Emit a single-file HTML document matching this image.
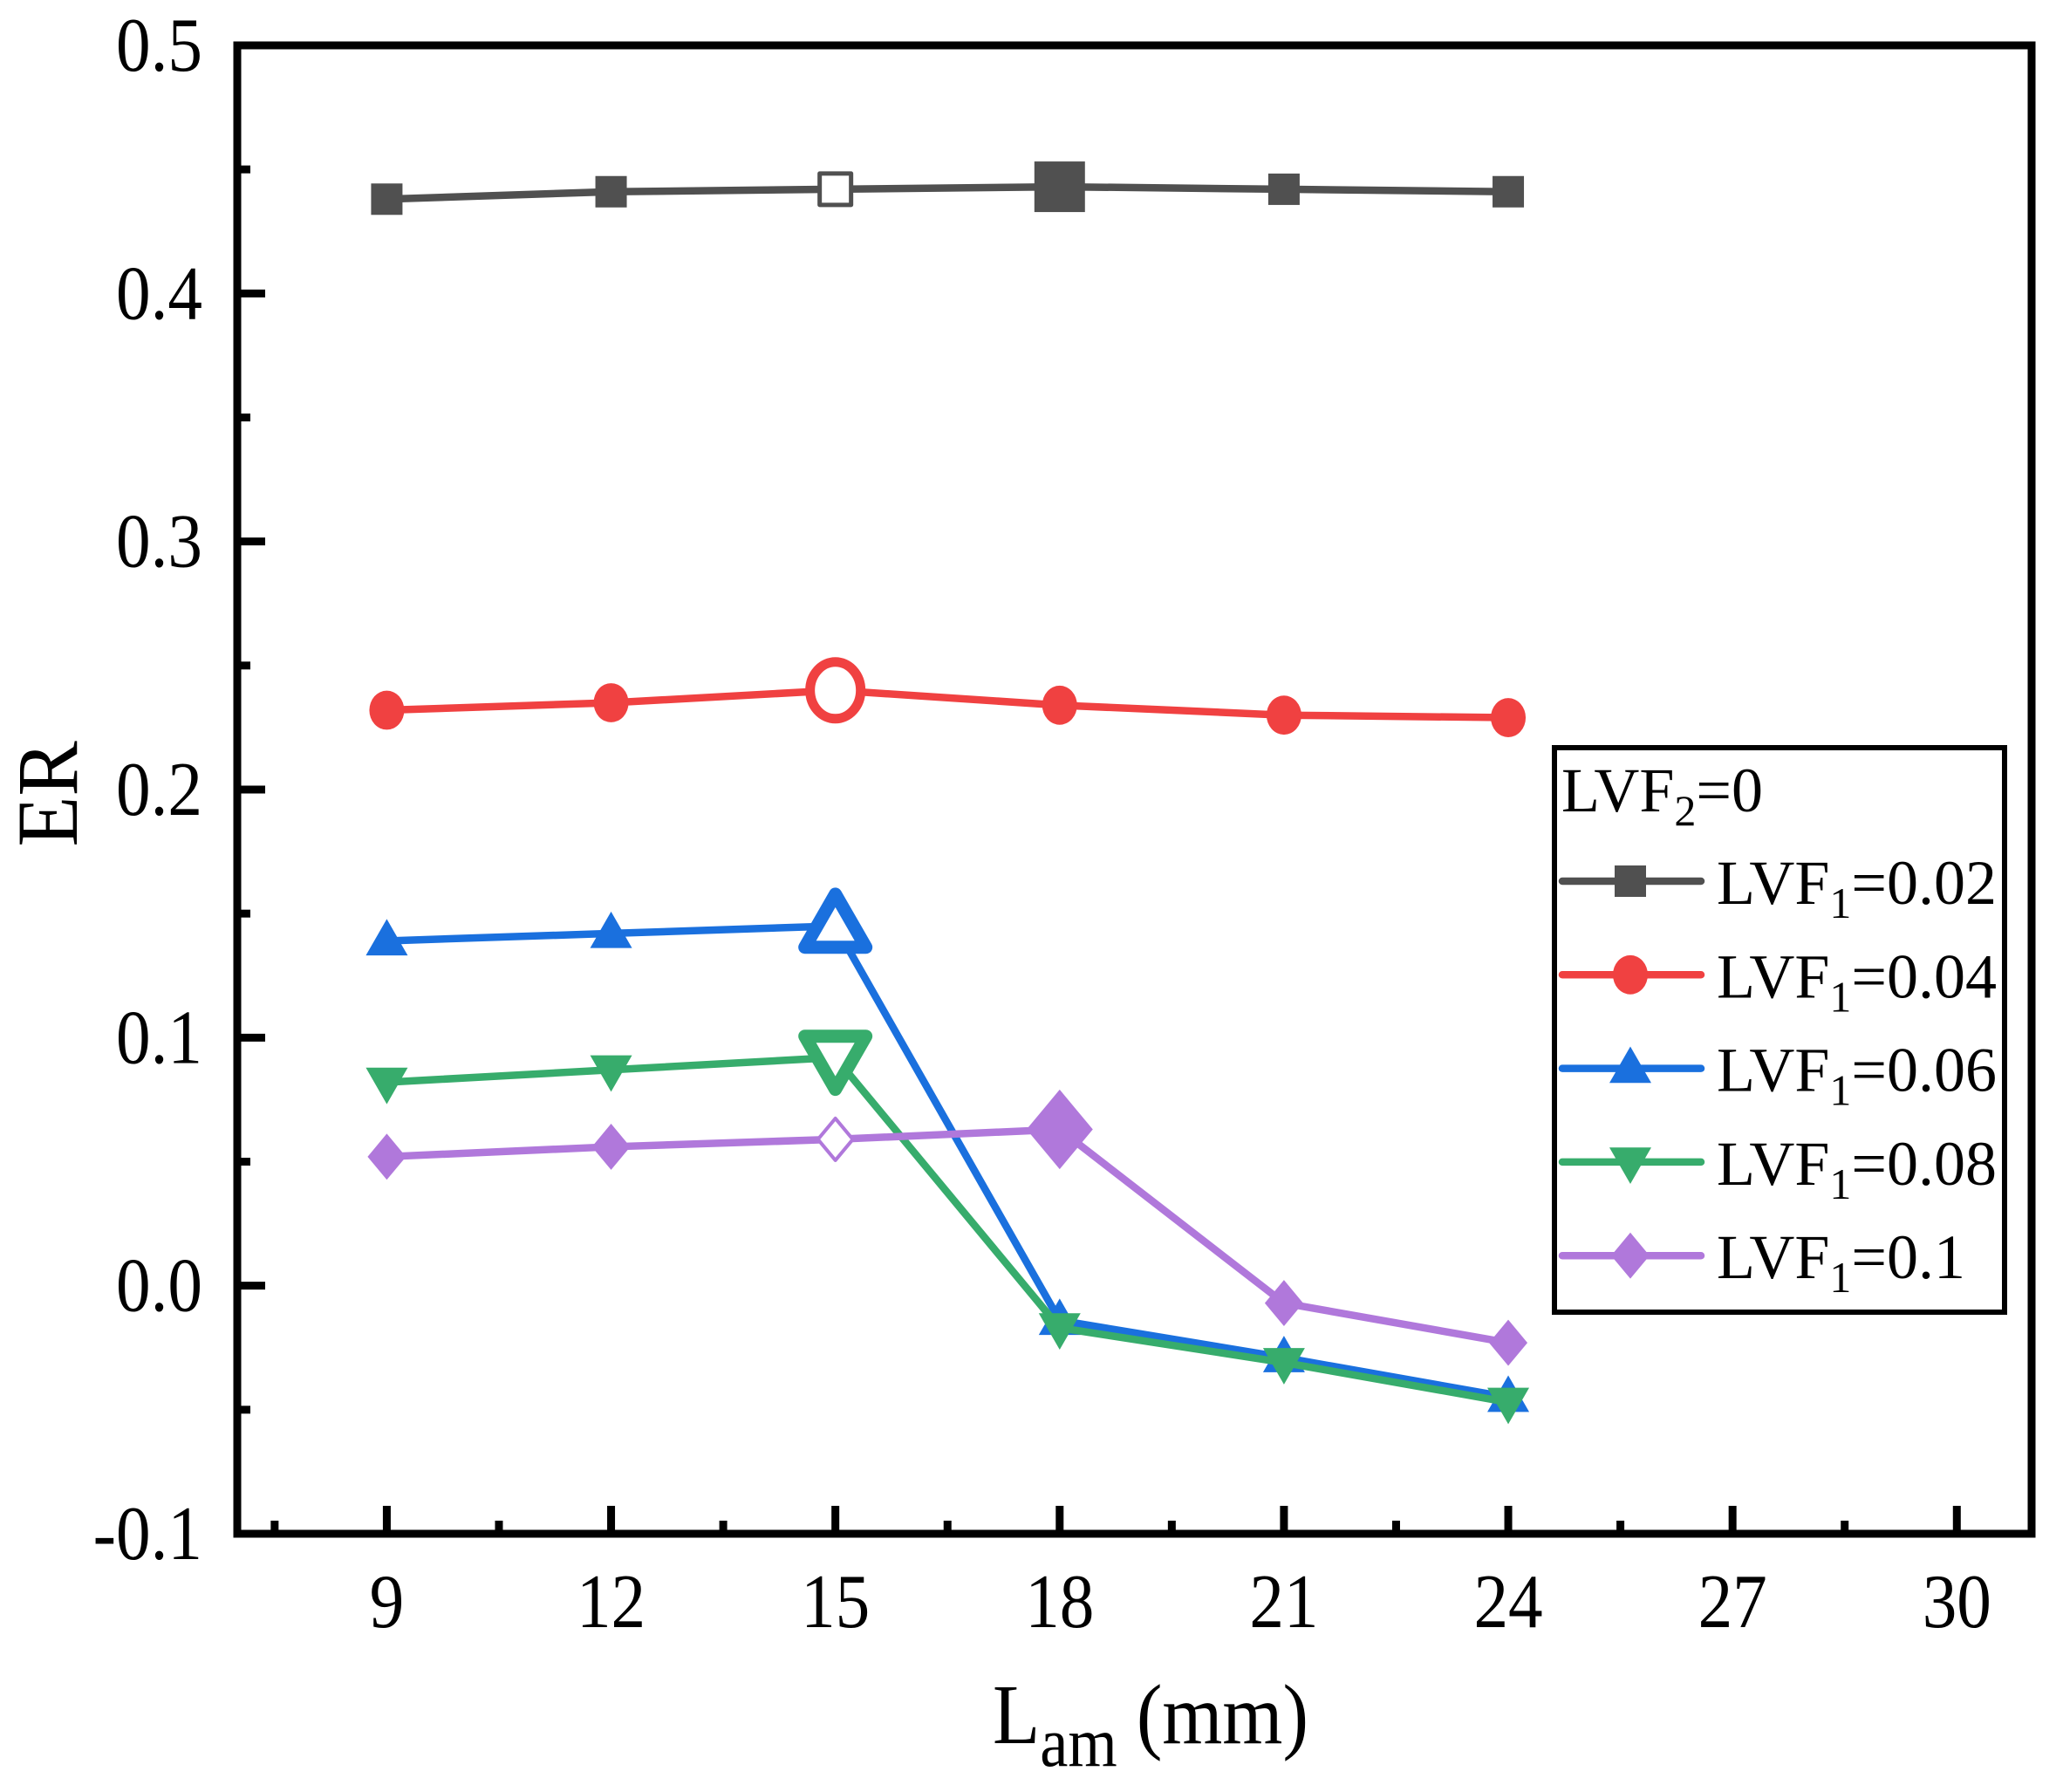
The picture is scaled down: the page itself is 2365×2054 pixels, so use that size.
<!DOCTYPE html>
<html><head><meta charset="utf-8"><style>
html,body{margin:0;padding:0;background:#fff;}
svg{display:block;}
text{font-family:"Liberation Serif",serif;fill:#000;}
</style></head><body>
<svg id="chart" xmlns="http://www.w3.org/2000/svg" width="2365" height="2054" viewBox="0 0 2365 2054">
<rect width="2365" height="2054" fill="#fff"/>
<g id="grid"></g>
<g id="series"></g>
<g id="labels"></g>
<text x="0" y="0" font-size="100" text-anchor="middle" transform="translate(88,910) rotate(-90) scale(0.95,1)">ER</text>
<text x="1138" y="1998" font-size="98" textLength="362" lengthAdjust="spacingAndGlyphs">L<tspan font-size="80" dy="26">am</tspan><tspan dy="-26"> (mm)</tspan></text>
<g id="legend"></g>
</svg>
<script>
const categories=[9,12,15,18,21,24];
const s002=[0.438,0.441,0.442,0.443,0.442,0.441];
const s004=[0.232,0.235,0.240,0.234,0.230,0.229];
const s006=[0.139,0.142,0.145,-0.014,-0.029,-0.045];
const s008=[0.082,0.087,0.092,-0.017,-0.031,-0.047];
const s010=[0.052,0.056,0.059,0.063,-0.007,-0.023];
const xTicks=[9,12,15,18,21,24,27,30];
const yTicks=[-0.1,0.0,0.1,0.2,0.3,0.4,0.5];
const yTickLabels=["-0.1","0.0","0.1","0.2","0.3","0.4","0.5"];
const seriesNames=["LVF1=0.02","LVF1=0.04","LVF1=0.06","LVF1=0.08","LVF1=0.1"];

const L=272,R=2329,T=52,B=1758,X0=7,X1=31,Y0=-0.1,Y1=0.5;
const xs=v=>L+(v-X0)/(X1-X0)*(R-L);
const ys=v=>B-(v-Y0)/(Y1-Y0)*(B-T);
const NS="http://www.w3.org/2000/svg";
function mk(tag,attrs,parent){const e=document.createElementNS(NS,tag);for(const k in attrs)e.setAttribute(k,attrs[k]);parent.appendChild(e);return e;}
const grid=document.getElementById('grid'),ser=document.getElementById('series'),lab=document.getElementById('labels'),leg=document.getElementById('legend');

for(let v=7.5;v<=30.01;v+=1.5){
  const major=xTicks.some(t=>Math.abs(t-v)<1e-6);
  const len=major?32:15;
  const t=mk('line',{x1:xs(v),x2:xs(v),y1:B,y2:B-len,stroke:'#000','stroke-width':9},grid);
  
  
}
for(let i=0;i<=12;i++){
  const v=-0.1+i*0.05;
  const major=i%2===0;
  const len=major?32:15;
  const t=mk('line',{x1:L,x2:L+len,y1:ys(v),y2:ys(v),stroke:'#000','stroke-width':9},grid);
  
  
}
const frame=mk('rect',{x:L,y:T,width:R-L,height:B-T,fill:'none',stroke:'#000','stroke-width':9},grid);



xTicks.forEach(v=>{
  const t=mk('text',{x:0,y:0,'font-size':88,'text-anchor':'middle',transform:`translate(${xs(v)},1865) scale(0.9,1)`},lab);
  t.textContent=String(v);
  
  
});
yTicks.forEach((v,i)=>{
  const t=mk('text',{x:0,y:0,'font-size':88,'text-anchor':'end',transform:`translate(232,${ys(v)+29}) scale(0.9,1)`},lab);
  t.textContent=yTickLabels[i];
  
  
});

function marker(type,cx,cy,size,color,hollow,sw,parent){
  const fill=hollow?'#fff':color, st={fill:fill,stroke:color,'stroke-width':hollow?sw:0,'stroke-linejoin':'round'};
  let e;
  if(type==='square'){e=mk('rect',Object.assign({x:cx-size/2,y:cy-size/2,width:size,height:size},st),parent);}
  else if(type==='circle'){e=mk('ellipse',Object.assign({cx:cx,cy:cy,rx:size/2,ry:size/2*1.12},st),parent);}
  else if(type==='up'){const h=size*0.87;e=mk('polygon',Object.assign({points:`${cx},${cy-h*0.6} ${cx+size/2},${cy+h*0.4} ${cx-size/2},${cy+h*0.4}`},st),parent);}
  else if(type==='down'){const h=size*0.87;e=mk('polygon',Object.assign({points:`${cx},${cy+h*0.6} ${cx+size/2},${cy-h*0.4} ${cx-size/2},${cy-h*0.4}`},st),parent);}
  else {const r=size/2;e=mk('polygon',Object.assign({points:`${cx},${cy-r*1.2} ${cx+r},${cy} ${cx},${cy+r*1.2} ${cx-r},${cy}`},st),parent);}
  return e;
}
const defs=[
 {vals:s002,color:'#505050',type:'square',size:36,special:{2:{size:36,hollow:true,sw:5},3:{size:58,hollow:false}}},
 {vals:s004,color:'#F04141',type:'circle',size:40,special:{2:{size:58,hollow:true,sw:11}}},
 {vals:s006,color:'#1A70DE',type:'up',size:48,special:{2:{size:70,hollow:true,sw:15}}},
 {vals:s008,color:'#37AC6C',type:'down',size:48,special:{2:{size:70,hollow:true,sw:15}}},
 {vals:s010,color:'#B078DB',type:'diamond',size:44,special:{2:{size:40,hollow:true,sw:4},3:{size:76,hollow:false}}}
];
defs.forEach((d,si)=>{
  const g=mk('g',{},ser);
  
  
  const pts=categories.map((c,i)=>xs(c)+','+ys(d.vals[i])).join(' ');
  const pl=mk('polyline',{points:pts,fill:'none',stroke:d.color,'stroke-width':8.5,'stroke-linejoin':'round'},g);
  
  
  categories.forEach((c,i)=>{
    const sp=d.special[i]||{};
    const m=marker(d.type,xs(c),ys(d.vals[i]),sp.size||d.size,d.color,!!sp.hollow,sp.sw||0,g);
    
    
  });
});

const box=mk('rect',{x:1782,y:857,width:516,height:647,fill:'#fff',stroke:'#000','stroke-width':6},leg);


const tt=mk('text',{x:1790,y:930,'font-size':72},leg);
tt.innerHTML='LVF<tspan font-size="50" dy="16">2</tspan><tspan dy="-16">=0</tspan>';


const vals=['0.02','0.04','0.06','0.08','0.1'];
defs.forEach((d,i)=>{
  const y=1010+i*107.3;
  const g=mk('g',{},leg);
  
  
  mk('line',{x1:1791,x2:1950,y1:y,y2:y,stroke:d.color,'stroke-width':8.5,'stroke-linecap':'round'},g);
  marker(d.type,1869,y,d.size,d.color,false,0,g);
  const t=mk('text',{x:1968,y:y+26,'font-size':72},g);
  t.innerHTML='LVF<tspan font-size="50" dy="16">1</tspan><tspan dy="-16">='+vals[i]+'</tspan>';
});
</script>
</body></html>
